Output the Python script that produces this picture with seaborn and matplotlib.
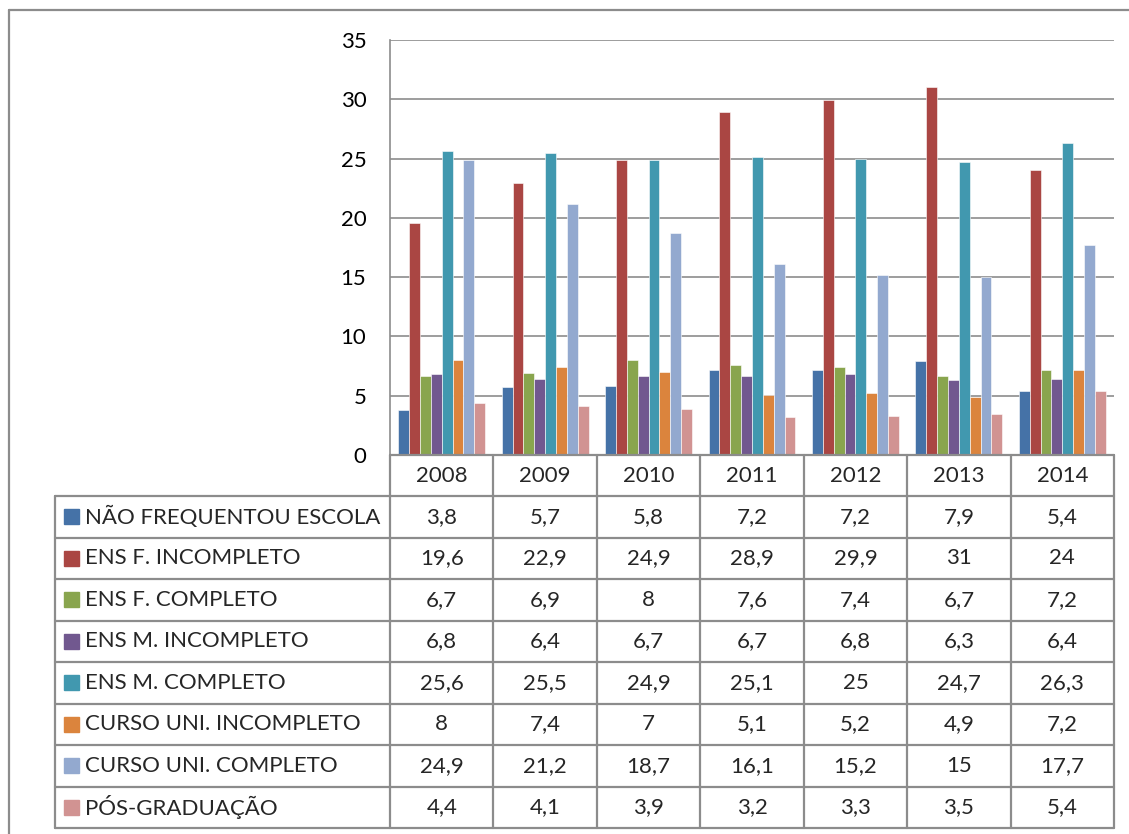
import matplotlib
matplotlib.use("Agg")
import matplotlib.pyplot as plt
from matplotlib.lines import Line2D
from matplotlib.patches import Rectangle
import seaborn as sns
import pandas as pd

years = ["2008", "2009", "2010", "2011", "2012", "2013", "2014"]
series_names = [
    "NÃO FREQUENTOU ESCOLA",
    "ENS F. INCOMPLETO",
    "ENS F. COMPLETO",
    "ENS M. INCOMPLETO",
    "ENS M. COMPLETO",
    "CURSO UNI. INCOMPLETO",
    "CURSO UNI. COMPLETO",
    "PÓS-GRADUAÇÃO",
]
nao_frequentou = [3.8, 5.7, 5.8, 7.2, 7.2, 7.9, 5.4]
ens_f_incompleto = [19.6, 22.9, 24.9, 28.9, 29.9, 31, 24]
ens_f_completo = [6.7, 6.9, 8, 7.6, 7.4, 6.7, 7.2]
ens_m_incompleto = [6.8, 6.4, 6.7, 6.7, 6.8, 6.3, 6.4]
ens_m_completo = [25.6, 25.5, 24.9, 25.1, 25, 24.7, 26.3]
curso_uni_incompleto = [8, 7.4, 7, 5.1, 5.2, 4.9, 7.2]
curso_uni_completo = [24.9, 21.2, 18.7, 16.1, 15.2, 15, 17.7]
pos_graduacao = [4.4, 4.1, 3.9, 3.2, 3.3, 3.5, 5.4]

series_values = [nao_frequentou, ens_f_incompleto, ens_f_completo, ens_m_incompleto,
                 ens_m_completo, curso_uni_incompleto, curso_uni_completo, pos_graduacao]
colors = ["#4572A7", "#AA4643", "#89A54E", "#71588F", "#4198AF", "#DB843D", "#93A9CF", "#D19392"]
yticks = [0, 5, 10, 15, 20, 25, 30, 35]

rows = []
for name, vals in zip(series_names, series_values):
    for y, v in zip(years, vals):
        rows.append({"Ano": y, "Série": name, "Valor": v})
df = pd.DataFrame(rows)

sns.set_theme(style="white")
plt.rcParams["font.family"] = ["Lato", "DejaVu Sans"]
FS = 16

W, H = 1129, 834
fig = plt.figure(figsize=(W / 100, H / 100), dpi=100)

def fx(x):
    return x / W

def fy(y):
    return 1 - y / H

ax_l, ax_r, ax_t, ax_b = 390, 1114, 40, 455
ax = fig.add_axes([fx(ax_l), fy(ax_b), fx(ax_r - ax_l), (ax_b - ax_t) / H])
sns.barplot(data=df, x="Ano", y="Valor", hue="Série", order=years, hue_order=series_names,
            palette=colors, width=0.84, saturation=1, ax=ax, legend=False,
            edgecolor="white", linewidth=0.4)
ax.set_ylim(0, 35)
ax.set_xlim(-0.5, len(years) - 0.5)
ax.set_yticks(yticks)
ax.set_yticklabels([str(t) for t in yticks], fontsize=FS)
ax.set_xticks([])
ax.set_xlabel("")
ax.set_ylabel("")
ax.tick_params(axis="y", length=0, pad=17, labelcolor="black")
ax.grid(axis="y", color="#8c8c8c", linewidth=1.2)
ax.set_axisbelow(True)
for s in ["top", "right"]:
    ax.spines[s].set_visible(False)
for s in ["left", "bottom"]:
    ax.spines[s].set_color("#8c8c8c")
    ax.spines[s].set_linewidth(1.2)
ax.patch.set_alpha(0)

lc = "#8c8c8c"
lw = 1.6

def hline(x0, x1, y):
    fig.add_artist(Line2D([fx(x0), fx(x1)], [fy(y), fy(y)], color=lc, lw=lw))

def vline(x, y0, y1):
    fig.add_artist(Line2D([fx(x), fx(x)], [fy(y0), fy(y1)], color=lc, lw=lw))

# outer frame
hline(9, W, 10)
vline(9, 10, H)

# table
leg_l = 55
head_t = 455
head_b = 496
row_h = (828 - 496) / 8
ncol = len(years)
col_w = (ax_r - ax_l) / ncol

hline(ax_l, ax_r, head_t)
for i in range(ncol + 1):
    vline(ax_l + i * col_w, head_t, 828)
for i, y in enumerate(years):
    fig.text(fx(ax_l + (i + 0.5) * col_w), fy((head_t + head_b) / 2), y,
             ha="center", va="center", fontsize=FS)

for r in range(9):
    hline(leg_l, ax_r, head_b + r * row_h)
vline(leg_l, head_b, 828)

for r, (name, vals, c) in enumerate(zip(series_names, series_values, colors)):
    cy = head_b + (r + 0.5) * row_h
    fig.add_artist(Rectangle((fx(64), fy(cy + 7.5)), fx(15), 15 / H, color=c,
                             transform=fig.transFigure))
    fig.text(fx(85), fy(cy), name, ha="left", va="center", fontsize=FS)
    for i, v in enumerate(vals):
        txt = ("%g" % v).replace(".", ",")
        fig.text(fx(ax_l + (i + 0.5) * col_w), fy(cy), txt, ha="center", va="center", fontsize=FS)

fig.savefig("out.png", dpi=100)
